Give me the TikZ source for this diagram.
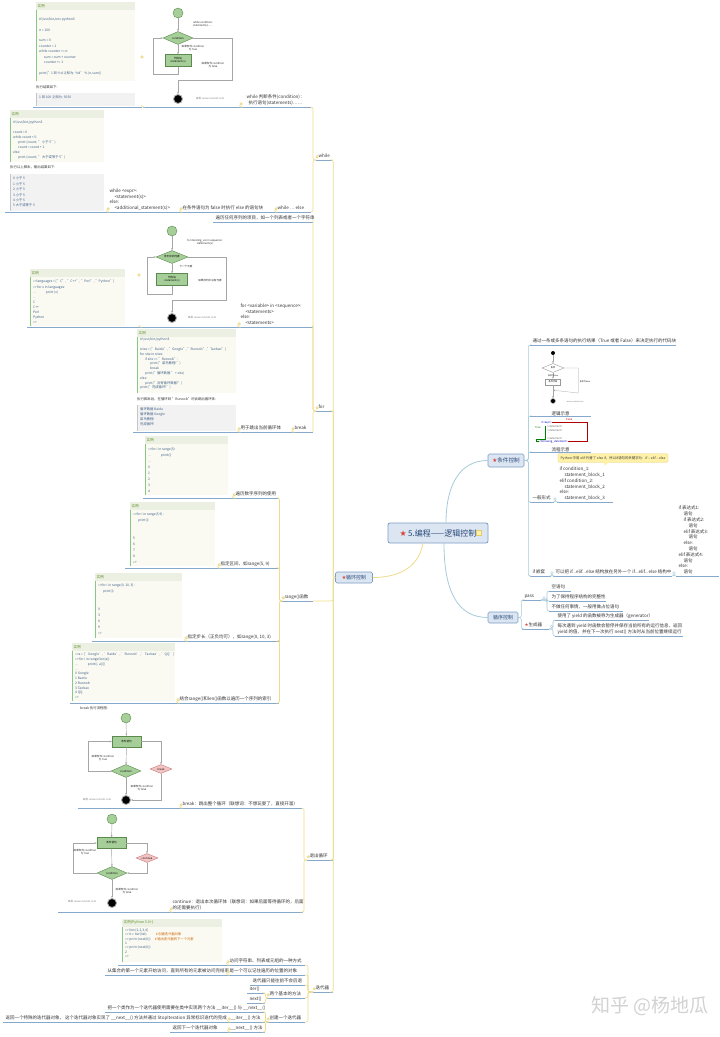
\documentclass[tikz,border=0pt]{standalone}
\usepackage{fontspec}
\setmainfont{Noto Sans CJK SC}
\newfontfamily\djv{DejaVu Sans}
\usetikzlibrary{calc,shapes.geometric,arrows.meta}
\definecolor{ucol}{HTML}{86A9CB}
\definecolor{ycol}{HTML}{EFDB8A}
\definecolor{bcol}{HTML}{A6CBDA}
\definecolor{boxf}{HTML}{DCE6F2}
\definecolor{boxd}{HTML}{7C9DC6}
\definecolor{gfill}{HTML}{A6CE98}
\definecolor{gdraw}{HTML}{5B8A4E}
\definecolor{pfill}{HTML}{F3C3C3}
\definecolor{pdraw}{HTML}{C47A7A}
\definecolor{codef}{HTML}{FAFAF2}
\definecolor{hdrf}{HTML}{ECF0E2}
\definecolor{hdrt}{HTML}{5E8F2A}
\definecolor{codet}{HTML}{3E5F88}
\definecolor{outf}{HTML}{F2F2F2}
\definecolor{txt}{HTML}{333333}
\definecolor{starc}{HTML}{D8443A}
\definecolor{titlec}{HTML}{29497A}
\definecolor{notef}{HTML}{FFF2A8}
\definecolor{noted}{HTML}{E3CC6E}
\definecolor{dotf}{HTML}{F7EDB3}
\definecolor{dotd}{HTML}{E6CF72}
\newcommand\tpf{\fontsize{4.5}{5.8}\selectfont}
\newcommand\fcf{\fontsize{2.6}{3.1}\selectfont}
\newcommand\cind{\hspace*{5pt}}
\newcommand\rstar{\textcolor{starc}{\djv ★}}
\tikzset{
  tp/.style={anchor=south west, inner xsep=2.5pt, inner ysep=0.6pt, outer sep=0pt, font=\tpf, text=txt},
  ul/.style={draw=ucol, line width=0.6pt},
  yc/.style={draw=ycol, line width=0.6pt, rounded corners=2pt},
  bc/.style={draw=bcol, line width=0.6pt, rounded corners=2pt},
  imgn/.style={anchor=south west, inner sep=0pt, outer sep=0pt},
  hdr/.style={anchor=west, inner sep=0pt, font=\fontsize{3.6}{4}\selectfont, text=hdrt},
  codetxt/.style={anchor=north west, inner sep=0pt, align=left, text=codet, font=\fontsize{3.3}{#1}\selectfont},
  codetxt/.default=4.8,
  codebar/.style={draw=hdrf!60!green!60!gray, line width=0.5pt},
  outbar/.style={draw=gray!45, line width=0.6pt},
  capt/.style={anchor=west, inner sep=0pt, font=\fontsize{3.4}{4}\selectfont, text=txt},
  fcstart/.style={circle, fill=gfill, draw=gdraw, minimum size=10pt, inner sep=0pt},
  fcend/.style={circle, fill=black, draw=gray!60, line width=0.9pt, minimum size=9pt, inner sep=0pt},
  fcbox/.style={rectangle, fill=gfill, draw=gdraw, minimum width=26pt, minimum height=12pt, inner sep=0.5pt, font=\fcf, align=center},
  fcdia/.style={diamond, shape aspect=2.3, fill=gfill, draw=gdraw, minimum width=30pt, minimum height=13pt, inner sep=0pt, font=\fcf},
  fcpink/.style={diamond, shape aspect=2.4, fill=pfill, draw=pdraw, minimum width=22pt, minimum height=9pt, inner sep=0pt, font=\fcf},
  fcl/.style={draw=gray!70, line width=0.45pt, -{Stealth[length=2.2pt,width=1.8pt]}},
  fclab/.style={font=\fcf, align=center, inner sep=0pt, text=black!85},
  mk/.style={circle, draw=bcol, fill=white, minimum size=2.6pt, inner sep=0pt, line width=0.4pt},
  ydot/.style={circle, draw=dotd, fill=dotf, minimum size=2.6pt, inner sep=0pt, line width=0.3pt},
  cc/.style={anchor=west, inner sep=0pt, font=\fontsize{2.6}{3}\selectfont},
  subbox/.style={rectangle, rounded corners=1.5pt, draw=boxd, fill=boxf, line width=0.6pt, inner sep=0pt, text=titlec},
}
\newcommand\topic[6][l]{%
  \pgfmathsetmacro\tpw{#4-#3-5}%
  \node[tp] (#2) at (#3,#5) {\makebox[\tpw pt][#1]{\begin{tabular}{@{}#1@{}}#6\end{tabular}}};%
  \draw[ul] (#2.south west) -- (#2.south east);%
}
\newcommand\imgnode[5]{%
  \node[imgn, minimum width={#3-#2}, minimum height={#5-#4}] (#1) at (#2,#5) {};%
  \draw[ul] (#1.south west) -- (#1.south east);%
}
\newcommand\lconn[3]{\draw[yc] (#1.south east) -| ($(#2.south west)+(-#3,0)$) -- (#2.south west);}
\newcommand\rconn[3]{\draw[bc] (#1.south east) -- ++(#3,0) |- (#2.south west);}
\newcommand\codeimg[9]{%
  \fill[hdrf] (#2,#3) rectangle (#4,#3+7.5);%
  \node[hdr] (#1h) at (#2+1.5,#3+3.75) {#6};%
  \fill[codef] (#2,#3+7.5) rectangle (#4,#5);%
  \draw[codebar] (#2+0.4,#3+7.5) -- (#2+0.4,#5);%
  \node[codetxt=#7] (#1c) at (#2+3,#8) {#9};%
}
\newcommand\outimg[7]{%
  \fill[outf] (#2,#3) rectangle (#4,#5);%
  \draw[outbar] (#2+0.4,#3) -- (#2+0.4,#5);%
  \node[codetxt=#7] (#1) at (#2+3,#3+3) {#6};%
}
\begin{document}
\begin{tikzpicture}[x=1pt,y=-1pt]
\useasboundingbox (0,0) rectangle (720,1037);
\fill[white] (0,0) rectangle (720,1037);

% ===== centre and main branches =====
\node[subbox, rounded corners=2pt, line width=0.8pt, minimum width=100pt, minimum height=20pt, font=\fontsize{8}{9}\selectfont] (C) at (438,533) {\rstar\,5.编程——逻辑控制\hspace{9pt}};
\draw[fill=notef, draw=noted, line width=0.4pt] ($(C.east)+(-12,-2.5)$) rectangle ++(5,5);
\node[subbox, minimum width=36pt, minimum height=13pt, font=\fontsize{5.6}{6}\selectfont] (K) at (506,460.5) {\rstar 条件控制};
\node[subbox, minimum width=30pt, minimum height=11pt, font=\fontsize{5}{6}\selectfont] (S) at (503,617.5) {循序控制};
\node[subbox, minimum width=37pt, minimum height=11pt, font=\fontsize{5}{6}\selectfont] (L) at (354,577.5) {\rstar 循环控制};
\draw[bc, line width=0.8pt] ($(C.north)+(8,0)$) .. controls (446,488) and (458,460.5) .. (K.west);
\draw[bc, line width=0.8pt] ($(C.south)+(6,0)$) .. controls (444,592) and (458,617.5) .. (S.west);
\draw[yc, line width=0.8pt] ($(C.south)+(-15,0)$) .. controls (418,570) and (395,577.5) .. (L.east);

% ===== 条件控制 =====
\topic{c1}{530}{676}{345}{通过一条或多条语句的执行结果（True 或者 False）来决定执行的代码块}
\imgnode{c2}{530}{591}{349}{416}
\node[tp, anchor=south] (c2l) at (c2.south) {逻辑示意};
\imgnode{c3}{530}{591}{418}{452}
\node[tp, anchor=south] (c3l) at (c3.south) {流程示意};
\topic{c4}{530}{554}{502}{一般形式}
\topic{c4a}{557}{613}{502}{if condition\_1:\\\cind statement\_block\_1\\elif condition\_2:\\\cind statement\_block\_2\\else:\\\cind statement\_block\_3}
\topic{c5}{530}{551}{576}{if 嵌套}
\topic{c5a}{553}{672}{576}{可以把 if...elif...else 结构放在另外一个 if...elif...else 结构中}
\topic{c5b}{676}{719}{576}{if 表达式1:\\\cind 语句\\\cind if 表达式2:\\\cind\cind 语句\\\cind elif 表达式3:\\\cind\cind 语句\\\cind else:\\\cind\cind 语句\\elif 表达式4:\\\cind 语句\\else:\\\cind 语句}
\foreach \ch in {c1,c2,c3,c4,c5} {\draw[bc] (K.east) -- ++(4,0) |- (\ch.south west);}
\rconn{c4}{c4a}{1.5}
\rconn{c5}{c5a}{1}
\rconn{c5a}{c5b}{2}
\node[mk] (m1) at (555,499) {};
\node[mk] (m2) at (552,573) {};
\node[mk] (m3) at (674,573) {};
% callout
\node[rectangle, rounded corners=1pt, fill=notef, draw=noted, line width=0.3pt, minimum width=110pt, minimum height=8.5pt, inner sep=0.5pt, font=\fontsize{3.4}{4}\selectfont, text=black!80] (note) at (613,458) {Python 中用 elif 代替了 else if，所以if语句的关键字为：if – elif – else};
\fill[notef] ($(note.south)+(-10,-0.3)$) -- ($(note.south)+(-4,-0.3)$) -- ($(note.south)+(-8,3)$) -- cycle;
% small flowchart (逻辑示意)
\node[circle, fill=black, minimum size=4pt, inner sep=0pt] (q1) at (553,353) {};
\node[diamond, shape aspect=2.4, draw=gray!80, fill=white, minimum width=22pt, minimum height=9pt, inner sep=0pt, font=\fontsize{2.2}{2.5}\selectfont] (q2) at (553,368) {条件};
\node[rectangle, draw=gray!80, fill=white, minimum width=15pt, minimum height=6pt, inner sep=0pt, font=\fontsize{2.2}{2.5}\selectfont] (q3) at (553,382) {条件代码};
\node[circle, fill=black, draw=gray!50, line width=0.6pt, minimum size=5pt, inner sep=0pt] (q4) at (553,401) {};
\draw[fcl, line width=0.3pt] (q1) -- (q2);
\draw[fcl, line width=0.3pt] (q2) -- (q3);
\draw[fcl, line width=0.3pt] (q3) -- (q4);
\draw[fcl, line width=0.3pt] (q2.east) -| ++(14,25) -- ($(q4.north)+(0,-8)$);
\node[font=\fontsize{2}{2.4}\selectfont, inner sep=0pt] (q5) at (553,375.6) {条件为true};
\node[font=\fontsize{2}{2.4}\selectfont, inner sep=0pt] (q6) at (585,382) {条件为false};
\node[font=\fontsize{2}{2.4}\selectfont, inner sep=0pt, text=gray] (q7) at (575,401.5) {www.runoob.com};
% code picture (流程示意)
\node[cc, text=blue!70!black] (k1) at (541,422.5) {if <expr>:};
\node[cc, text=red!75!black] (k2) at (566,419.3) {False};
\node[cc, text=green!50!black] (k3) at (535,427.3) {True};
\node[cc, text=gray!80!black] (k4) at (547,427) {<statement>};
\node[cc, text=gray!80!black] (k5) at (547,430.3) {<statement>};
\node[cc, text=gray!80!black] (k6) at (547,433.6) {...};
\node[cc, text=gray!80!black] (k7) at (547,438.2) {<statement>};
\node[cc, text=blue!70!black] (k8) at (539.5,441.5) {<following\_statement>};
\draw[green!50!black, line width=0.35pt, -{Stealth[length=1.5pt,width=1.3pt]}] (545.5,425.5) |- (536.5,439.6) |- (k8.west);
\draw[red!70!black, line width=0.35pt, -{Stealth[length=1.5pt,width=1.3pt]}] (k1.east) -- (587,422.5) |- (k8.east);

% ===== 循序控制 =====
\topic{p0}{522}{541}{600}{pass}
\topic{p1}{549}{571}{591}{空语句}
\topic{p2}{549}{606}{601}{为了保持程序结构的完整性}
\topic{p3}{549}{623}{611}{不做任何事情，一般用做占位语句}
\topic{g0}{522}{549}{629}{\rstar 生成器}
\topic{g1}{555}{649}{620}{使用了 yield 的函数被称为生成器（generator）}
\topic{g2}{555}{683}{636}{每次遇到 yield 时函数会暂停并保存当前所有的运行信息，返回\\yield 的值，并在下一次执行 next() 方法时从当前位置继续运行}
\foreach \ch in {p0,g0} {\draw[bc] (S.east) -- ++(3,0) |- (\ch.south west);}
\rconn{p0}{p1}{6}
\rconn{p0}{p2}{6}
\rconn{p0}{p3}{6}
\rconn{g0}{g1}{4}
\rconn{g0}{g2}{4}
\node[mk] (m4) at (544,598) {};
\node[mk] (m5) at (551.5,626.5) {};

% ===== while =====
\topic{W0}{316}{333}{160}{while}
\topic[c]{W1}{240}{311}{107}{while 判断条件(condition)：\\执行语句(statements)……}
\imgnode{W1a}{143}{240}{3}{107}
\imgnode{W1b}{33}{142}{3}{107}
\codeimg{wc}{36}{2}{135}{81}{实例}{5.4}{17.5}{\#!/usr/bin/env python3\\~\\n = 100\\~\\sum = 0\\counter = 1\\while counter <= n:\\\cind sum = sum + counter\\\cind counter += 1\\~\\print("1 到 \%d 之和为: \%d" \% (n,sum))}
\node[capt] (wcap) at (36,87) {执行结果如下:};
\outimg{wo}{36}{93}{135}{106}{1 到 100 之和为: 5050}{5}
% while flowchart
\node[fcstart] (a1s) at (178,13) {};
\node[fcdia] (a1d) at (178,38) {condition};
\node[fcbox] (a1b) at (178,60.5) {代码块\\statement(s)};
\node[fcend] (a1e) at (178,99) {};
\draw[fcl] (a1s) -- (a1d);
\draw[fcl] (a1d) -- (a1b);
\draw[fcl] (a1b.south) |- ++(-25,8) |- (a1d.west);
\draw[fcl] (a1d.east) -| ++(39,42) -| (a1e.north);
\node[fclab] (a1l1) at (203,24) {while condition:\\statement(s)......};
\node[fclab] (a1l2) at (193,48) {如果条件 condition\\为 true};
\node[fclab] (a1l3) at (213,65) {如果条件 condition\\为 false};
\node[fclab, text=gray] (a1l4) at (210,99) {来源: www.runoob.com};

\topic{W2}{275}{311}{212}{while … else}
\topic{W2a}{180}{275}{212}{在条件语句为 false 时执行 else 的语句块}
\topic{W2b}{107}{180}{212}{while <expr>:\\\cind <statement(s)>\\else:\\\cind <additional\_statement(s)>}
\imgnode{W2c}{5}{107}{110}{212}
\codeimg{wec}{10}{110}{104}{162}{实例}{4.9}{121}{\#!/usr/bin/python3\\~\\count = 0\\while count < 5:\\\cind print (count, " 小于 5")\\\cind count = count + 1\\else:\\\cind print (count, " 大于或等于 5")}
\node[capt] (wecap) at (10,167) {执行以上脚本，输出结果如下:};
\outimg{weo}{10}{174}{104}{211}{0 小于 5\\1 小于 5\\2 小于 5\\3 小于 5\\4 小于 5\\5 大于或等于 5}{5.4}
\lconn{W1b}{W1a}{1.5}
\lconn{W1a}{W1}{0.5}
\lconn{W1}{W0}{3}
\lconn{W2}{W0}{3}
\lconn{W2a}{W2}{0.5}
\lconn{W2b}{W2a}{0.5}
\lconn{W2c}{W2b}{0.5}

% ===== for =====
\topic{F0}{316}{333}{411}{for}
\topic{F1}{213}{313}{222}{遍历任何序列的项目，如一个列表或者一个字符串}
\topic{F2}{238}{313}{327}{for <variable> in <sequence>:\\\cind <statements>\\else:\\\cind <statements>}
\imgnode{F2a}{140}{238}{224}{327}
\imgnode{F2b}{27}{140}{268}{327}
\node[fcstart] (b1s) at (172,231) {};
\node[fcdia, minimum width=32pt] (b1d) at (172,257) {序列中的元素};
\node[fcbox, minimum width=31pt] (b1b) at (172,279.5) {代码块\\statement(s)};
\node[fcend] (b1e) at (172,318) {};
\draw[fcl] (b1s) -- (b1d);
\draw[fcl] (b1d) -- (b1b);
\draw[fcl] (b1b.south) |- ++(-25,9) |- (b1d.west);
\draw[fcl] (b1d.east) -| ++(38,43) -| (b1e.north);
\node[fclab] (b1l1) at (205,242) {for iterating\_var in sequence:\\statements(s)};
\node[fclab] (b1l2) at (186,267) {下一个元素};
\node[fclab] (b1l3) at (210,281) {如果序列中没有元素};
\node[fclab, text=gray] (b1l4) at (202,318) {来源: www.runoob.com};
\codeimg{fc}{30}{269}{125}{326}{实例}{5.1}{280}{>>>languages = ["C", "C++", "Perl", "Python"]\\>>> for x in languages:\\...\cind\cind print (x)\\...\\C\\C++\\Perl\\Python\\>>>}
\topic{F3}{292}{313}{432}{break}
\topic{F3a}{238}{292}{432}{用于跳出当前循环体}
\imgnode{F3b}{133}{238}{329}{432}
\codeimg{bk}{137}{329}{236}{393}{实例}{4.8}{338}{\#!/usr/bin/python3\\~\\sites = ["Baidu", "Google","Runoob","Taobao"]\\for site in sites:\\\cind if site == "Runoob":\\\cind\cind print("菜鸟教程!")\\\cind\cind break\\\cind print("循环数据 " + site)\\else:\\\cind print("没有循环数据!")\\print("完成循环!")}
\node[capt] (bkcap) at (137,399) {执行脚本后，在循环到 "Runoob"时会跳出循环体:};
\outimg{bko}{137}{405}{236}{431}{循环数据 Baidu\\循环数据 Google\\菜鸟教程!\\完成循环!}{5}
\lconn{F1}{F0}{3}
\lconn{F2}{F0}{3}
\lconn{F3}{F0}{3}
\lconn{F2b}{F2a}{1}
\lconn{F2a}{F2}{0.5}
\lconn{F3b}{F3a}{0.5}
\lconn{F3a}{F3}{0.5}

% ===== range =====
\topic{R0}{282}{313}{601}{range()函数}
\topic{R1}{233}{279}{498}{遍历数字序列的使用}
\imgnode{R1a}{143}{233}{436}{498}
\codeimg{r1}{145}{436}{228}{495}{实例}{5.9}{448}{>>>for i in range(5):\\...\cind\cind print(i)\\...\\0\\1\\2\\3\\4}
\topic{R2}{218}{279}{568}{指定区间，如range(5, 9)}
\imgnode{R2a}{125}{218}{502}{568}
\codeimg{r2}{130}{502}{215}{566}{实例}{5.9}{513}{>>>for i in range(5,9) :\\\cind print(i)\\~\\~\\5\\6\\7\\8\\>>>}
\topic{R3}{185}{279}{641}{指定步长（正负均可），如range(0, 10, 3)}
\imgnode{R3a}{92}{185}{573}{641}
\codeimg{r3}{95}{573}{182}{638}{实例}{5.9}{584}{>>>for i in range(0, 10, 3) :\\\cind print(i)\\~\\~\\0\\3\\6\\9\\>>>}
\topic{R4}{177}{279}{703}{结合range()和len()函数以遍历一个序列的索引}
\imgnode{R4a}{70}{177}{643}{703}
\codeimg{r4}{72}{643}{175}{701}{实例}{4.75}{653}{>>>a = ['Google', 'Baidu', 'Runoob', 'Taobao', 'QQ']\\>>> for i in range(len(a)):\\...\cind\cind print(i, a[i])\\...\\0 Google\\1 Baidu\\2 Runoob\\3 Taobao\\4 QQ\\>>>}
\lconn{R1}{R0}{2.5}
\lconn{R2}{R0}{2.5}
\lconn{R3}{R0}{2.5}
\lconn{R4}{R0}{2.5}
\lconn{R1a}{R1}{0.5}
\lconn{R2a}{R2}{0.5}
\lconn{R3a}{R3}{0.5}
\lconn{R4a}{R4}{0.5}

% ===== 退出循环 =====
\topic{E0}{307}{333}{860}{退出循环}
\topic{E1}{180}{302}{808}{break：跳出整个循环（联想词：不想玩耍了，直接开溜）}
\imgnode{E1a}{78}{180}{704}{808}
\node[capt] (e1cap) at (80,708) {break 执行流程图:};
\node[fcstart] (c1s) at (126,718) {};
\node[fcbox, minimum width=29pt, minimum height=11pt] (c1b) at (126.5,741.5) {条件语句};
\node[fcdia] (c1d) at (126,771) {condition};
\node[fcpink] (c1p) at (161,769) {break};
\node[fcend] (c1e) at (126,800) {};
\draw[fcl] (c1s) -- (c1b);
\draw[fcl] (c1b) -- (c1d);
\draw[fcl] (c1d) -- (c1e);
\draw[fcl] (c1d.west) -| ++(-23,-29.5) -- (c1b.west);
\draw[fcl] (c1b.east) -| (c1p.north);
\draw[fcl] (c1p.south) |- (c1e.east);
\node[fclab] (c1l1) at (103,758) {如果条件 condition\\为 true};
\node[fclab] (c1l2) at (142,788) {如果条件 condition\\为 false};
\node[fclab, text=gray] (c1l3) at (97,800) {来源: www.runoob.com};

\topic{E2}{170}{303}{912}{continue：退出本次循环体（联想词：如果后面等待循环的，后面\\的还需要执行）}
\imgnode{E2a}{58}{170}{812}{912}
\node[fcstart] (d1s) at (112,819) {};
\node[fcbox, minimum width=29pt, minimum height=11pt] (d1b) at (111.5,843) {条件语句};
\node[fcdia] (d1d) at (112,873) {condition};
\node[fcpink] (d1p) at (147,858) {continue};
\node[fcend] (d1e) at (112,903) {};
\draw[fcl] (d1s) -- (d1b);
\draw[fcl] (d1b) -- (d1d);
\draw[fcl] (d1d) -- (d1e);
\draw[fcl] (d1d.west) -| ++(-24,-30) -- (d1b.west);
\draw[fcl] (d1b.east) -| (d1p.north);
\draw[fcl] (d1p.south) |- (d1d.east);
\node[fclab] (d1l1) at (85,852) {如果条件 condition\\为 true};
\node[fclab] (d1l2) at (127,891) {如果条件 condition\\为 false};
\node[fclab, text=gray] (d1l3) at (82,902) {来源: www.runoob.com};
\lconn{E1}{E0}{3}
\lconn{E2}{E0}{3}
\lconn{E1a}{E1}{0.5}
\lconn{E2a}{E2}{0.5}

% ===== 迭代器 =====
\topic{I0}{313}{333}{992}{迭代器}
\topic{I1}{227}{305}{965}{访问字符串、列表或元组的一种方式}
\imgnode{I1a}{118}{227}{918}{965}
\codeimg{ic}{122}{919}{222}{962}{实例(Python 3.0+)}{4.4}{928.5}{>>> list=[1,2,3,4]\\>>> it = iter(list)\hspace{9pt}\textcolor{orange!80!black}{\# 创建迭代器对象}\\>>> print (next(it))\hspace{4pt}\textcolor{orange!80!black}{\# 输出迭代器的下一个元素}\\1\\>>> print (next(it))\\2\\>>>}
\topic{I2}{227}{305}{975}{是一个可以记住遍历的位置的对象}
\topic{I2a}{105}{227}{975}{从集合的第一个元素开始访问，直到所有的元素被访问完结束}
\topic{I3}{250}{305}{985}{迭代器只能往前不会后退}
\topic{I4}{267}{305}{998}{两个基本的方法}
\topic{I4a}{247}{265}{993}{iter()}
\topic{I4b}{247}{265}{1003}{next()}
\topic{I5}{267}{305}{1022}{创建一个迭代器}
\topic{I5a}{105}{265}{1012}{把一个类作为一个迭代器使用需要在类中实现两个方法 \_\_iter\_\_() 与 \_\_next\_\_()}
\topic{I5b}{228}{265}{1022}{\_\_iter\_\_() 方法}
\topic{I5b1}{3}{228}{1022}{返回一个特殊的迭代器对象， 这个迭代器对象实现了 \_\_next\_\_() 方法并通过 StopIteration 异常标识迭代的完成}
\topic{I5c}{228}{265}{1032}{\_\_next\_\_() 方法}
\topic{I5c1}{170}{228}{1032}{返回下一个迭代器对象}
\lconn{I1}{I0}{5}
\lconn{I2}{I0}{5}
\lconn{I3}{I0}{5}
\lconn{I4}{I0}{5}
\lconn{I5}{I0}{5}
\lconn{I1a}{I1}{0.5}
\lconn{I2a}{I2}{0.5}
\lconn{I4a}{I4}{1.5}
\lconn{I4b}{I4}{1.5}
\lconn{I5a}{I5}{1.5}
\lconn{I5b}{I5}{1.5}
\lconn{I5c}{I5}{1.5}
\lconn{I5b1}{I5b}{0.5}
\lconn{I5c1}{I5c}{0.5}

% ===== 循环控制 trunk =====
\foreach \ch in {W0,F0,R0,E0,I0} {\draw[yc] (\ch.south east) -| ($(L.west)+(-2,0)$) -- (L.west);}

% collapse markers on the left side
\foreach \p in {W0,W1,W2,W2a,W2b,F0,F2,F3,F3a,R0,R1,R2,R3,R4,E0,E1,E2,I0,I1,I2,I4,I5,I5b,I5c} {\node[ydot] at ($(\p.south west)+(1.2,-3.2)$) {};}
\node[ydot] (yd1) at ($(W1a.south west)+(-1,-50)$) {};
\node[ydot] (yd2) at ($(F2a.south west)+(-1,-52)$) {};

% watermark
\node[font=\fontsize{19}{20}\selectfont, text=gray!35, inner sep=0pt] (wm) at (650,1006) {知乎 @杨地瓜};
\end{tikzpicture}
\end{document}
